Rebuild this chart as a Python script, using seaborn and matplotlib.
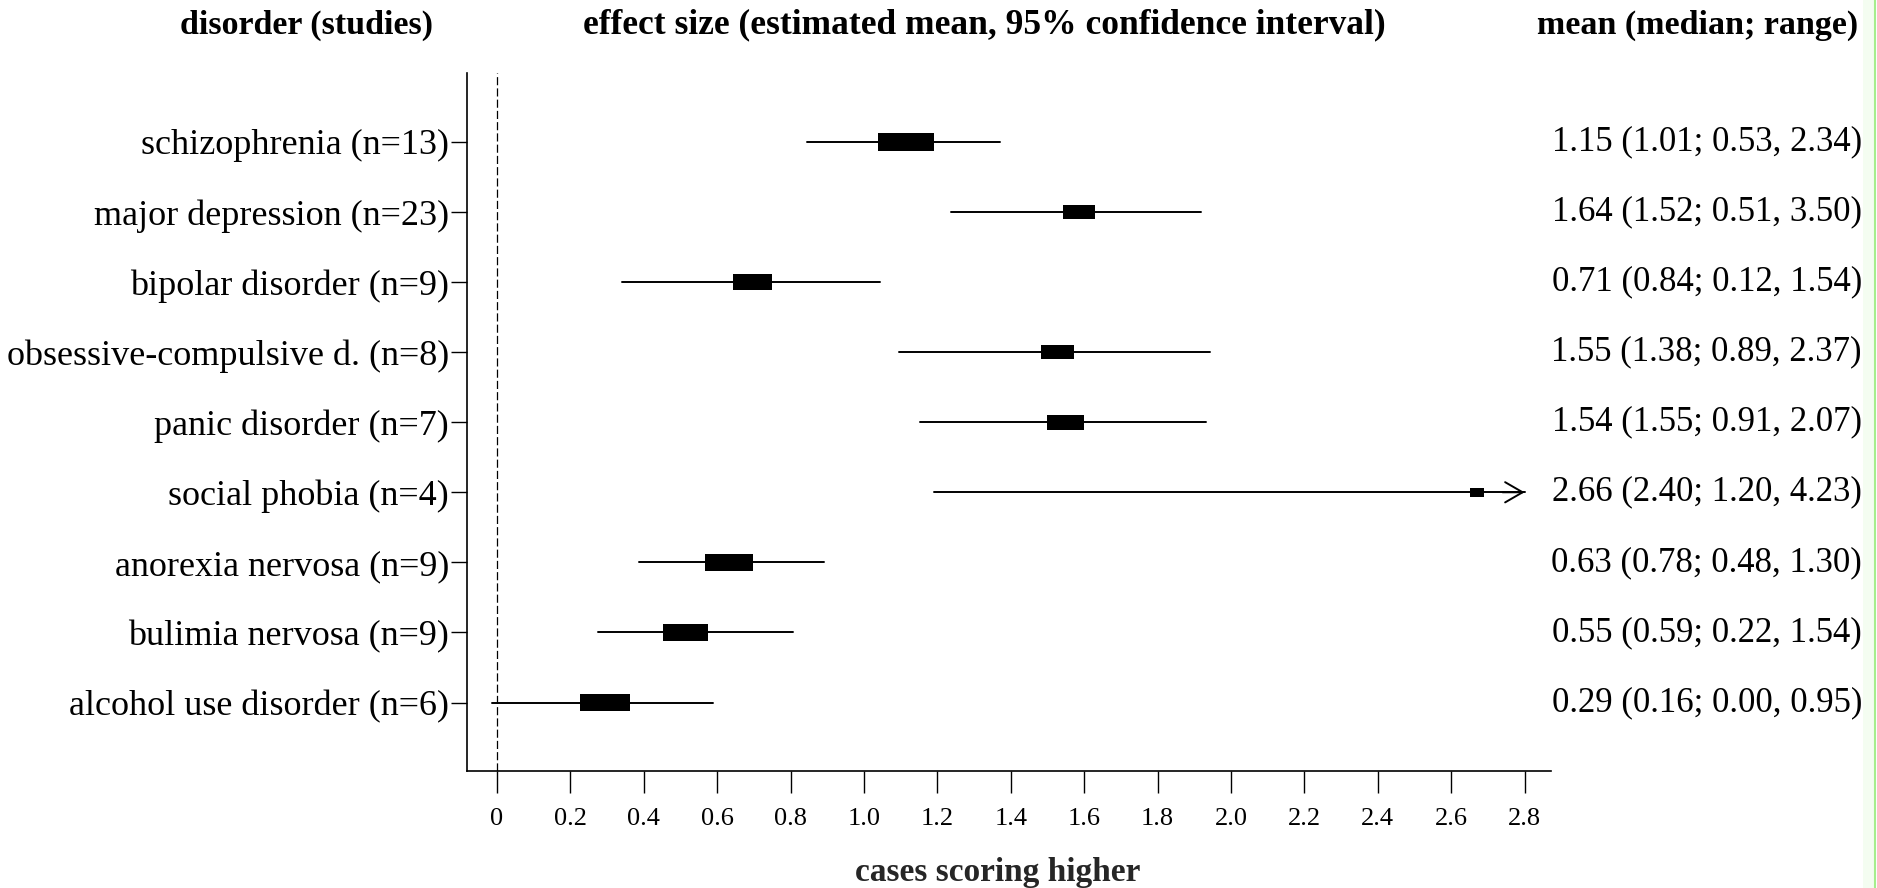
import numpy as np
import pandas as pd
import matplotlib
matplotlib.use("Agg")
import matplotlib.pyplot as plt
import matplotlib.transforms as mtransforms
from matplotlib.lines import Line2D
from matplotlib.patches import Rectangle
import seaborn as sns

# ---------------- data ----------------
disorders = ["schizophrenia", "major depression", "bipolar disorder",
             "obsessive-compulsive d.", "panic disorder", "social phobia",
             "anorexia nervosa", "bulimia nervosa", "alcohol use disorder"]
n_studies = [13, 23, 9, 8, 7, 4, 9, 9, 6]

# plotted estimate (box centre) and 95% CI
est_mean = [1.115, 1.586, 0.696, 1.527, 1.549, 2.670, 0.632, 0.514, 0.295]
ci_low = [0.844, 1.236, 0.340, 1.095, 1.152, 1.191, 0.387, 0.274, -0.013]
ci_high = [1.370, 1.918, 1.043, 1.944, 1.933, 2.800, 0.892, 0.806, 0.588]
ci_beyond_axis = [False, False, False, False, False, True, False, False, False]
box_span = [0.152, 0.085, 0.108, 0.092, 0.103, 0.039, 0.132, 0.121, 0.135]

# right-hand column: mean (median; range)
mean_val = [1.15, 1.64, 0.71, 1.55, 1.54, 2.66, 0.63, 0.55, 0.29]
median_val = [1.01, 1.52, 0.84, 1.38, 1.55, 2.40, 0.78, 0.59, 0.16]
range_min = [0.53, 0.51, 0.12, 0.89, 0.91, 1.20, 0.48, 0.22, 0.00]
range_max = [2.34, 3.50, 1.54, 2.37, 2.07, 4.23, 1.30, 1.54, 0.95]

x_ticks = [0, 0.2, 0.4, 0.6, 0.8, 1.0, 1.2, 1.4, 1.6, 1.8, 2.0, 2.2, 2.4, 2.6, 2.8]
x_tick_labels = ["0", "0.2", "0.4", "0.6", "0.8", "1.0", "1.2", "1.4", "1.6",
                 "1.8", "2.0", "2.2", "2.4", "2.6", "2.8"]

# ---------------- style ----------------
sns.set_theme(style="ticks")
plt.rcParams["font.family"] = ["Liberation Serif", "DejaVu Serif"]
plt.rcParams["axes.edgecolor"] = "black"
plt.rcParams["xtick.color"] = "black"
plt.rcParams["ytick.color"] = "black"
plt.rcParams["text.color"] = "black"

W, H = 1877, 888
fig = plt.figure(figsize=(W / 100, H / 100), dpi=100)
fig.patch.set_facecolor("white")

ax_l, ax_r, ax_t, ax_b = 467, 1551, 73, 771
ax = fig.add_axes([ax_l / W, 1 - ax_b / H, (ax_r - ax_l) / W, (ax_b - ax_t) / H])
ax.set_facecolor("white")

rows = np.arange(len(disorders))

# confidence-interval lines
ci_df = pd.DataFrame({
    "disorder": np.repeat(disorders, 2),
    "row": np.repeat(rows, 2),
    "value": np.column_stack([ci_low, ci_high]).ravel(),
})
sns.lineplot(data=ci_df, x="value", y="row", units="disorder", estimator=None,
             color="black", lw=1.4, ax=ax, legend=False, sort=True)

# arrow heads where the interval continues past the axis
for r, hi, beyond in zip(rows, ci_high, ci_beyond_axis):
    if beyond:
        ax.annotate("", xy=(hi, r), xytext=(hi - 0.06, r),
                    arrowprops=dict(arrowstyle="->,head_length=0.45,head_width=0.26",
                                    lw=1.4, color="black", mutation_scale=28,
                                    shrinkA=0, shrinkB=0))

# boxes for the estimates
span = np.array(box_span)
heights = 0.67 * np.sqrt(span)
ax.barh(rows, span, left=np.array(est_mean) - span / 2, height=heights,
        color="black", edgecolor="black", linewidth=0, zorder=3)

# reference line at zero
ax.axvline(0, color="black", lw=0.9, dashes=(6.5, 2.5), zorder=1)

# axes
ax.set_xlim(-0.0817, 2.872)
ax.set_ylim(8.976, -0.981)
ax.set_xticks(x_ticks, labels=x_tick_labels)
ax.set_yticks(rows, labels=[f"{d} (n={n})" for d, n in zip(disorders, n_studies)])
sns.despine(ax=ax)
for s in ("left", "bottom"):
    ax.spines[s].set_linewidth(1.2)
ax.tick_params(axis="x", length=15.8, width=1.0, pad=11, labelsize=19, direction="out")
ax.tick_params(axis="y", length=11.5, width=1.0, pad=1.4, labelsize=26, direction="out")
ax.set_ylabel("")
ax.set_xlabel("cases scoring higher", fontsize=24, fontweight="bold")
ax.xaxis.set_label_coords(0.49, -0.1447)
ax.xaxis.label.set_verticalalignment("center")

# right-hand column of summary numbers
trans = mtransforms.blended_transform_factory(fig.transFigure, ax.transData)
for r, m, md, lo, hi in zip(rows, mean_val, median_val, range_min, range_max):
    ax.text(0.992, r, f"{m:.2f} ({md:.2f}; {lo:.2f}, {hi:.2f})",
            transform=trans, ha="right", va="center", fontsize=25, clip_on=False)

# column headers
hy = 1 - 25 / H
fig.text(307 / W, hy, "disorder (studies)", ha="center", va="center",
         fontsize=24.5, fontweight="bold")
fig.text(984 / W, hy, "effect size (estimated mean, 95% confidence interval)",
         ha="center", va="center", fontsize=25.5, fontweight="bold")
fig.text(1698 / W, hy, "mean (median; range)", ha="center", va="center",
         fontsize=24.5, fontweight="bold")

# pale green border at the right edge of the original image
fig.patches.append(Rectangle((1863 / W, 0), 12 / W, 1, transform=fig.transFigure,
                             facecolor="#f4fdf1", edgecolor="none", zorder=0))
fig.lines.append(Line2D([1875 / W, 1875 / W], [0, 1], transform=fig.transFigure,
                        color="#a6ee8c", lw=1.5))

fig.savefig("out.png", dpi=100, facecolor="white")
